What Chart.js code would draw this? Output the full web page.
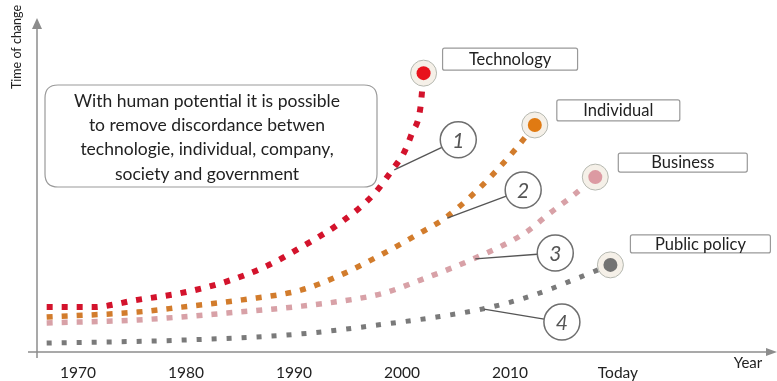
<!DOCTYPE html>
<html>
<head>
<meta charset="utf-8">
<script src="https://cdn.jsdelivr.net/npm/chart.js@4.4.0/dist/chart.umd.min.js"></script>
<style>
  html, body { margin: 0; padding: 0; background: #fff; }
  #wrap { width: 777px; height: 381px; position: relative; }
</style>
</head>
<body>
<div id="wrap"><canvas id="chart"></canvas></div>
<script>
// ===== Data =====
const techYears   = [1967.1, 1971.3, 1975.5, 1979.6, 1983.6, 1987.5, 1991.0, 1994.4, 1997.5, 1999.1, 2000.2, 2000.9, 2001.7, 2002.0];
const techValues  = [13.6, 13.6, 15.8, 17.9, 21.2, 26.1, 32.4, 39.4, 48.2, 55.2, 60.5, 66.1, 73.9, 84.5];

const indivYears  = [1967.1, 1975.5, 1979.6, 1985.2, 1990.7, 1994.5, 1998.2, 2001.7, 2004.0, 2006.9, 2008.9, 2010.6, 2012.3];
const indivValues = [10.6, 12.1, 13.6, 15.8, 18.8, 23.6, 29.7, 36.1, 40.6, 48.8, 55.5, 61.8, 68.8];

const bizYears    = [1967.1, 1975.5, 1983.8, 1990.7, 1996.3, 1998.5, 2001.7, 2006.6, 2011.4, 2013.7, 2015.8, 2017.9];
const bizValues   = [8.8, 9.7, 11.8, 13.9, 16.4, 18.0, 21.8, 28.2, 36.1, 42.1, 47.3, 53.0];

const polYears    = [1967.1, 1979.6, 1990.7, 1999.2, 2003.2, 2007.4, 2011.4, 2014.0, 2016.5, 2019.3];
const polValues   = [2.7, 3.6, 5.5, 8.8, 10.6, 13.0, 16.4, 19.4, 22.7, 26.4];

const seriesNames = ["Technology", "Individual", "Business", "Public policy"];
const calloutNums = ["1", "2", "3", "4"];

const tickYears  = [1970, 1980, 1990, 2000, 2010, 2020];
const tickLabels = ["1970", "1980", "1990", "2000", "2010", "Today"];

const yTitle = "Time of change";
const xTitle = "Year";
const noteLines = [
  "With human potential it is possible",
  "to remove discordance betwen",
  "technologie, individual, company,",
  "society and government",
];

const FONT = 'Lato, "Open Sans", sans-serif';

// styling per series (not data)
const styles = [
  { color: "#d3132c", dot: "#e8121c", width: 6,   dash: [6, 9],  box: { dx: 19, dy: -25, w: 135, h: 22 }, callout: { idx: 9, dx: 66, dy: -30 } },
  { color: "#d27c2c", dot: "#e07a12", width: 5.5, dash: [6, 9],  box: { dx: 22, dy: -25, w: 123, h: 21 }, callout: { idx: 8, dx: 78, dy: -28 } },
  { color: "#d8a1a7", dot: "#dc9aa2", width: 5.5, dash: [6, 9],  box: { dx: 23, dy: -24, w: 129, h: 19 }, callout: { idx: 7, dx: 82, dy: -6 } },
  { color: "#7a7a7a", dot: "#737373", width: 5,   dash: [5, 10], box: { dx: 20, dy: -30, w: 140, h: 18 }, callout: { idx: 5, dx: 80, dy: 13 } },
];

const pairs = (xs, ys) => xs.map((x, i) => ({ x, y: ys[i] }));
const seriesData = [
  pairs(techYears, techValues),
  pairs(indivYears, indivValues),
  pairs(bizYears, bizValues),
  pairs(polYears, polValues),
];

function rrect(ctx, x, y, w, h, r) {
  ctx.beginPath();
  ctx.moveTo(x + r, y);
  ctx.lineTo(x + w - r, y);
  ctx.quadraticCurveTo(x + w, y, x + w, y + r);
  ctx.lineTo(x + w, y + h - r);
  ctx.quadraticCurveTo(x + w, y + h, x + w - r, y + h);
  ctx.lineTo(x + r, y + h);
  ctx.quadraticCurveTo(x, y + h, x, y + h - r);
  ctx.lineTo(x, y + r);
  ctx.quadraticCurveTo(x, y, x + r, y);
  ctx.closePath();
}

// ===== Axes, ticks, titles (drawn through the scales) =====
const axesPlugin = {
  id: "axes",
  beforeDatasetsDraw(chart) {
    const { ctx, chartArea: a, scales: { x } } = chart;
    ctx.save();
    ctx.strokeStyle = "#8c8c8c";
    ctx.fillStyle = "#8c8c8c";
    ctx.lineWidth = 1.5;
    // y axis with arrow
    ctx.beginPath();
    ctx.moveTo(a.left, a.bottom + 6);
    ctx.lineTo(a.left, a.top + 4);
    ctx.stroke();
    ctx.beginPath();
    ctx.moveTo(a.left, a.top - 4);
    ctx.lineTo(a.left - 5, a.top + 7);
    ctx.lineTo(a.left + 5, a.top + 7);
    ctx.closePath();
    ctx.fill();
    // x axis with arrow
    ctx.beginPath();
    ctx.moveTo(a.left - 9, a.bottom);
    ctx.lineTo(a.right - 4, a.bottom);
    ctx.stroke();
    ctx.beginPath();
    ctx.moveTo(a.right + 2, a.bottom);
    ctx.lineTo(a.right - 9, a.bottom - 4);
    ctx.lineTo(a.right - 9, a.bottom + 4);
    ctx.closePath();
    ctx.fill();

    // tick labels
    ctx.fillStyle = "#222";
    ctx.font = "15.5px " + FONT;
    ctx.textAlign = "center";
    ctx.textBaseline = "middle";
    tickYears.forEach((yr, i) => {
      ctx.fillText(tickLabels[i], x.getPixelForValue(yr), a.bottom + 21);
    });
    ctx.font = "15px " + FONT;
    ctx.fillText(xTitle, a.right - 27, a.bottom + 11);

    // y title
    ctx.font = "12.5px " + FONT;
    ctx.save();
    ctx.translate(17, 47);
    ctx.rotate(-Math.PI / 2);
    ctx.fillText(yTitle, 0, 0);
    ctx.restore();
    ctx.restore();
  },
};

// ===== Annotations =====
const notesPlugin = {
  id: "notes",
  afterDatasetsDraw(chart) {
    const { ctx, scales: { x, y } } = chart;
    ctx.save();

    // big note box
    ctx.lineWidth = 1.2;
    ctx.strokeStyle = "#9a9a9a";
    ctx.fillStyle = "#fff";
    rrect(ctx, 45, 85, 332, 102, 13);
    ctx.fill();
    ctx.stroke();
    ctx.fillStyle = "#222";
    ctx.font = "17.5px " + FONT;
    ctx.textAlign = "center";
    ctx.textBaseline = "middle";
    noteLines.forEach((ln, i) => ctx.fillText(ln, 207, 101 + i * 24.3));

    seriesData.forEach((pts, si) => {
      const st = styles[si];
      const last = pts[pts.length - 1];
      const ex = x.getPixelForValue(last.x);
      const ey = y.getPixelForValue(last.y);

      // end marker
      ctx.beginPath();
      ctx.arc(ex, ey, 13, 0, Math.PI * 2);
      ctx.fillStyle = "#f5f0e8";
      ctx.fill();
      ctx.lineWidth = 1;
      ctx.strokeStyle = "#b5b8b0";
      ctx.stroke();
      ctx.beginPath();
      ctx.arc(ex, ey, 7, 0, Math.PI * 2);
      ctx.fillStyle = st.dot;
      ctx.fill();

      // label box
      const b = st.box;
      ctx.lineWidth = 1.2;
      ctx.strokeStyle = "#999";
      ctx.fillStyle = "#fff";
      rrect(ctx, ex + b.dx, ey + b.dy, b.w, b.h, 2);
      ctx.fill();
      ctx.stroke();
      ctx.fillStyle = "#222";
      ctx.font = "16.5px " + FONT;
      ctx.fillText(seriesNames[si], ex + b.dx + b.w / 2, ey + b.dy + b.h / 2 + 0.5);

      // numbered callout
      const c = st.callout;
      const ap = pts[c.idx];
      const ax = x.getPixelForValue(ap.x);
      const ay = y.getPixelForValue(ap.y);
      const cx = ax + c.dx, cy = ay + c.dy, r = 18;
      const ang = Math.atan2(ay - cy, ax - cx);
      ctx.beginPath();
      ctx.moveTo(ax + 2, ay);
      ctx.lineTo(cx + r * Math.cos(ang), cy + r * Math.sin(ang));
      ctx.lineWidth = 1.3;
      ctx.strokeStyle = "#555";
      ctx.stroke();
      ctx.beginPath();
      ctx.arc(cx, cy, r, 0, Math.PI * 2);
      ctx.fillStyle = "#fff";
      ctx.fill();
      ctx.lineWidth = 1.5;
      ctx.strokeStyle = "#6e6e6e";
      ctx.stroke();
      ctx.fillStyle = "#555";
      ctx.font = "italic 21px " + FONT;
      ctx.fillText(calloutNums[si], cx, cy + 1);
    });
    ctx.restore();
  },
};

new Chart(document.getElementById("chart"), {
  type: "line",
  data: {
    datasets: seriesData.map((pts, i) => ({
      label: seriesNames[i],
      data: pts,
      borderColor: styles[i].color,
      borderWidth: styles[i].width,
      borderDash: styles[i].dash,
      borderCapStyle: "butt",
      cubicInterpolationMode: "monotone",
      pointRadius: 0,
      fill: false,
    })),
  },
  options: {
    responsive: true,
    maintainAspectRatio: false,
    animation: false,
    layout: { padding: { left: 37, right: 2, top: 22, bottom: 29 } },
    scales: {
      x: { type: "linear", min: 1966.204, max: 2034.54, display: false },
      y: { min: 0, max: 100, display: false },
    },
    plugins: { legend: { display: false }, tooltip: { enabled: false } },
  },
  plugins: [axesPlugin, notesPlugin],
});
</script>
</body>
</html>
